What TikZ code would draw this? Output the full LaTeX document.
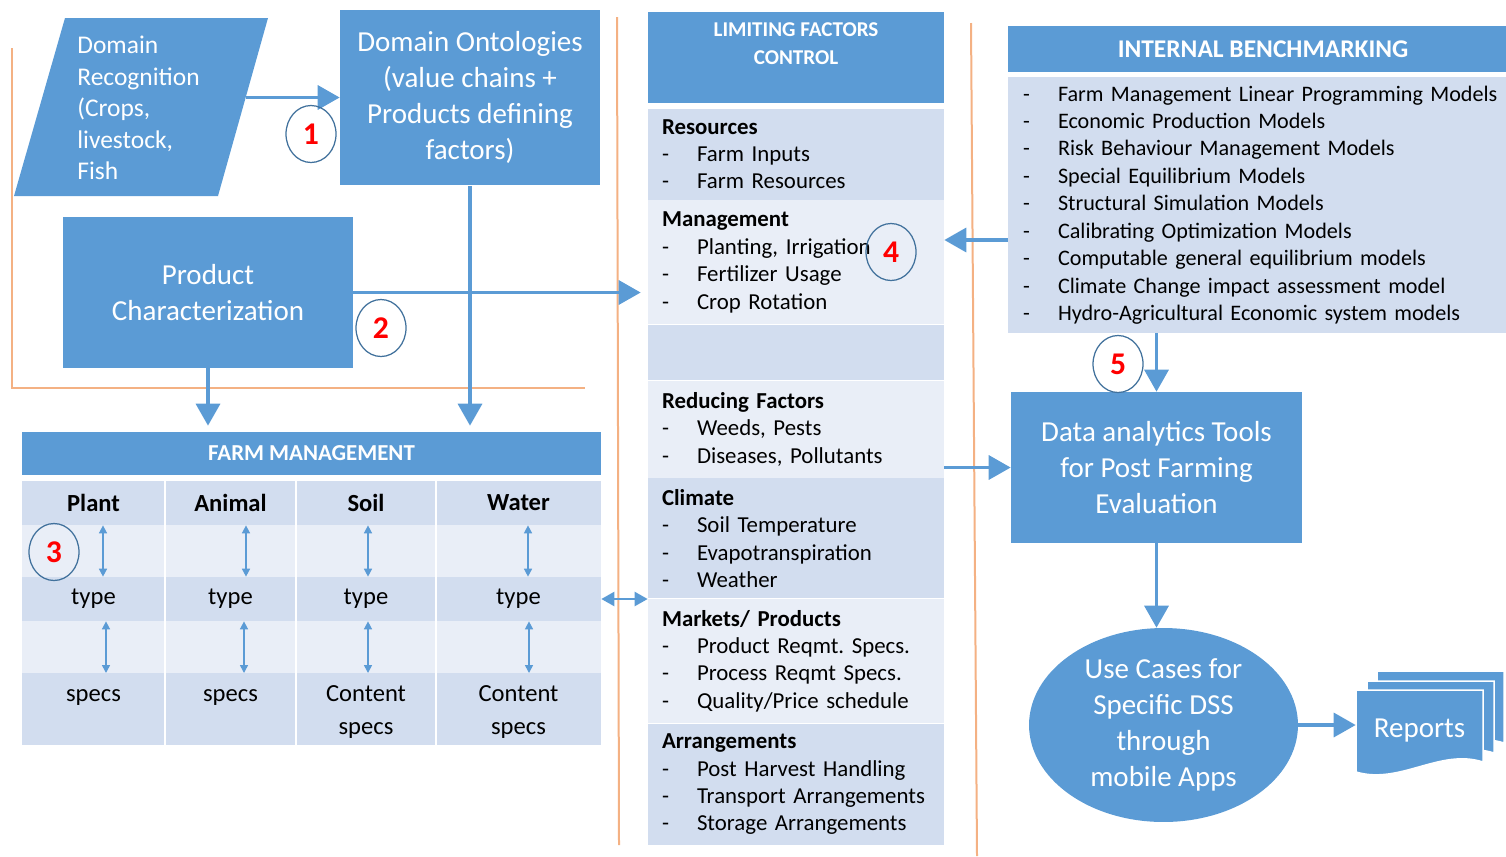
\documentclass[tikz,border=0pt]{standalone}
\usepackage{fontspec}
\setmainfont{Carlito}
\usepackage{xcolor}
\usepackage{tikz}
\usetikzlibrary{arrows.meta}
\usetikzlibrary{positioning}
\usetikzlibrary{shapes}
\frenchspacing

\definecolor{fb}{HTML}{5B9BD5}
\definecolor{bandA}{HTML}{D2DDEF}
\definecolor{bandB}{HTML}{E9EEF7}
\definecolor{sep}{HTML}{F4B183}
\definecolor{ring}{HTML}{41719C}

\newcommand{\itm}[1]{\makebox[0.7cm][l]{-}#1}

\begin{document}
\begin{tikzpicture}[x=0.02cm, y=-0.02cm,
	box/.style={rectangle, fill=fb, text=white, align=center, inner sep=0pt,
				font=\fontsize{16.5}{20.4}\selectfont},
	hdr/.style={rectangle, fill=fb, text=white, align=center, inner sep=0pt,
				font=\bfseries\fontsize{13}{15.9}\selectfont},
	band/.style={rectangle, text width=5.36cm, inner xsep=0.28cm, inner ysep=0pt,
				align=left, font=\fontsize{13}{15.6}\selectfont},
	cell/.style={align=center, inner sep=0pt, minimum height=0.88cm,
				font=\fontsize{14}{18.7}\selectfont},
	num/.style={ellipse, draw=ring, line width=0.025cm, text=red, inner sep=0pt,
				minimum width=1cm, minimum height=1.14cm,
				font=\bfseries\fontsize{18}{20}\selectfont},
	arr/.style={draw=fb, line width=0.07cm, -{Triangle[length=0.44cm, width=0.48cm]}},
	dbl/.style={draw=fb, line width=0.045cm,
				{Triangle[length=0.26cm, width=0.28cm]}-{Triangle[length=0.26cm, width=0.28cm]}},
	tic/.style={draw=fb, line width=0.03cm,
				{Triangle[length=0.16cm, width=0.16cm]}-{Triangle[length=0.16cm, width=0.16cm]}},
	orangeline/.style={draw=sep, line width=0.04cm},
]
\useasboundingbox (0,0) rectangle (1506,856);

% orange frame lines
\draw[orangeline] (12,48) -- (12,388) -- (585,388);
\draw[orangeline] (617,17) -- (619,845);
\draw[orangeline] (971,23) -- (977,856);

% domain and product boxes
\fill[fb] (65,18) -- (268,18) -- (218,196) -- (14,196) -- cycle;
\node[anchor=west, align=left, inner sep=0pt, text=white,
	font=\fontsize{14.5}{17.9}\selectfont] (dr) at (77,108)
	{Domain\\Recognition\\(Crops,\\livestock,\\Fish};
\coordinate (drE) at (246,97.5);
\node[box, minimum width=5.2cm, minimum height=3.52cm] (do) at (470,97.5)
	{Domain Ontologies\\(value chains +\\Products defining\\factors)};
\node[box, minimum width=5.8cm, minimum height=3.02cm] (pc) at (208,292.5)
	{Product\\Characterization};

% farm management table
\node[hdr, minimum width=11.58cm, minimum height=0.86cm] (fm) at (311.5,453.5) {FARM MANAGEMENT};
\foreach \ya/\yb/\c in {481/525/bandA, 525/577/bandB, 577/621/bandA, 621/673/bandB, 673/745/bandA}
	\fill[\c] (22,\ya) rectangle (601,\yb);
\foreach \xx in {165,296,436}
	\draw[white, line width=0.05cm] (\xx,481) -- (\xx,745);
\foreach \nm/\xx/\hd/\spc in {pl/93.5/Plant/specs, an/230.5/Animal/specs,
		so/366/Soil/{Content\\specs}, wa/518.5/Water/{Content\\specs}} {
	\node[cell, font=\bfseries\fontsize{14}{18.7}\selectfont] (\nm-h) at (\xx,503) {\hd};
	\node[cell] (\nm-t) at (\xx,599) {type};
	\node[cell, anchor=north, minimum height=0pt, inner ysep=0.1cm] (\nm-s) at (\xx,673) {\strut\spc};
}
\foreach \nm/\xa/\xb in {pl/103/106, an/246/244, so/368/368, wa/528/529} {
	\draw[tic] (\nm-h.south -| \xa,0) -- (\nm-t.north -| \xa,0);
	\draw[tic] (\nm-t.south -| \xb,0) -- (\nm-s.north -| \xb,0);
}

% limiting factors control
\node[hdr, font=\bfseries\fontsize{12}{15.9}\selectfont, minimum width=5.92cm,
	minimum height=1.82cm] (lf) at (796,57.5) {LIMITING FACTORS\\CONTROL\\\mbox{}};
\node[band, fill=bandA, minimum height=1.82cm, below=0.1cm of lf] (rs)
	{\textbf{Resources}\\\itm{Farm Inputs}\\\itm{Farm Resources}};
\node[band, fill=bandB, minimum height=2.48cm, below=0pt of rs] (mg)
	{\textbf{Management}\\\itm{Planting, Irrigation}\\\itm{Fertilizer Usage}\\\itm{Crop Rotation}};
\node[band, fill=bandA, minimum height=1.1cm, below=0pt of mg] (em) {};
\node[band, fill=bandB, minimum height=1.94cm, below=0pt of em] (rf)
	{\textbf{Reducing Factors}\\\itm{Weeds, Pests}\\\itm{Diseases, Pollutants}};
\node[band, fill=bandA, minimum height=2.4cm, below=0pt of rf] (cl)
	{\textbf{Climate}\\\itm{Soil Temperature}\\\itm{Evapotranspiration}\\\itm{Weather}};
\node[band, fill=bandB, minimum height=2.48cm, below=0pt of cl] (mk)
	{\textbf{Markets/ Products}\\\itm{Product Reqmt. Specs.}\\\itm{Process Reqmt Specs.}\\\itm{Quality/Price schedule}};
\node[band, fill=bandA, minimum height=2.42cm, below=0pt of mk] (ar)
	{\textbf{Arrangements}\\\itm{Post Harvest Handling}\\\itm{Transport Arrangements}\\\itm{Storage Arrangements}};

% internal benchmarking
\node[hdr, font=\bfseries\fontsize{14.5}{17}\selectfont, minimum width=10.2cm,
	minimum height=0.92cm] (ib) at (1263,49) {INTERNAL BENCHMARKING};
\node[band, fill=bandA, text width=9.8cm, inner xsep=0.3cm, minimum height=5.12cm,
	font=\fontsize{12.6}{15.6}\selectfont] (bm) at (1268,205)
	{\itm{Farm Management Linear Programming Models}\\
	 \itm{Economic Production Models}\\
	 \itm{Risk Behaviour Management Models}\\
	 \itm{Special Equilibrium Models}\\
	 \itm{Structural Simulation Models}\\
	 \itm{Calibrating Optimization Models}\\
	 \itm{Computable general equilibrium models}\\
	 \itm{Climate Change impact assessment model}\\
	 \itm{Hydro-Agricultural Economic system models}};

% evaluation and outputs
\node[box, minimum width=5.82cm, minimum height=3.02cm] (da) at (1156.5,467.5)
	{Data analytics Tools\\for Post Farming\\Evaluation};
\node[box, ellipse, inner sep=-0.25cm, minimum width=5.38cm, minimum height=3.88cm] (uc) at (1163.5,725)
	{Use Cases for\\Specific DSS\\through\\mobile Apps};
\foreach \dx/\dy in {21/-19, 11/-9, 0/0}
	\filldraw[fill=fb, draw=white, line width=0.03cm, shift={(\dx,\dy)}]
		(1356,690) -- (1483,690) -- (1483,762) .. controls (1440,748) and (1400,785) .. (1356,772) -- cycle;
\node[box, fill=none, minimum width=2.54cm, minimum height=1.5cm] (rep) at (1419.5,731) {Reports};

% connectors
\draw[arr] (drE) -- (do.west);
\draw[arr, shorten >=0.14cm] (pc.east) -- (pc.east -| mg.west);
\draw[arr, shorten >=0.12cm] (pc.south) -- (pc.south |- fm.north);
\draw[arr, shorten >=0.12cm] (do.south) -- (do.south |- fm.north);
\draw[dbl] (wa-t.east -| fm.east) -- (wa-t.east -| mk.west);
\draw[arr] ([yshift=-0.7cm]bm.west) -- ([yshift=-0.7cm]bm.west -| mg.east);
\draw[arr] (bm.south -| da.north) -- (da.north);
\draw[arr] (rf.east |- da.west) -- (da.west);
\draw[arr] (da.south) -- (da.south |- uc.north);
\draw[arr] (uc.east) -- (uc.east -| rep.west);

% step numbers
\node[num] (n1) at (311,134) {1};
\node[num] (n2) at (381,328) {2};
\node[num] (n3) at (54,552) {3};
\node[num] (n4) at (891,252) {4};
\node[num] (n5) at (1118,364) {5};
\end{tikzpicture}
\end{document}
